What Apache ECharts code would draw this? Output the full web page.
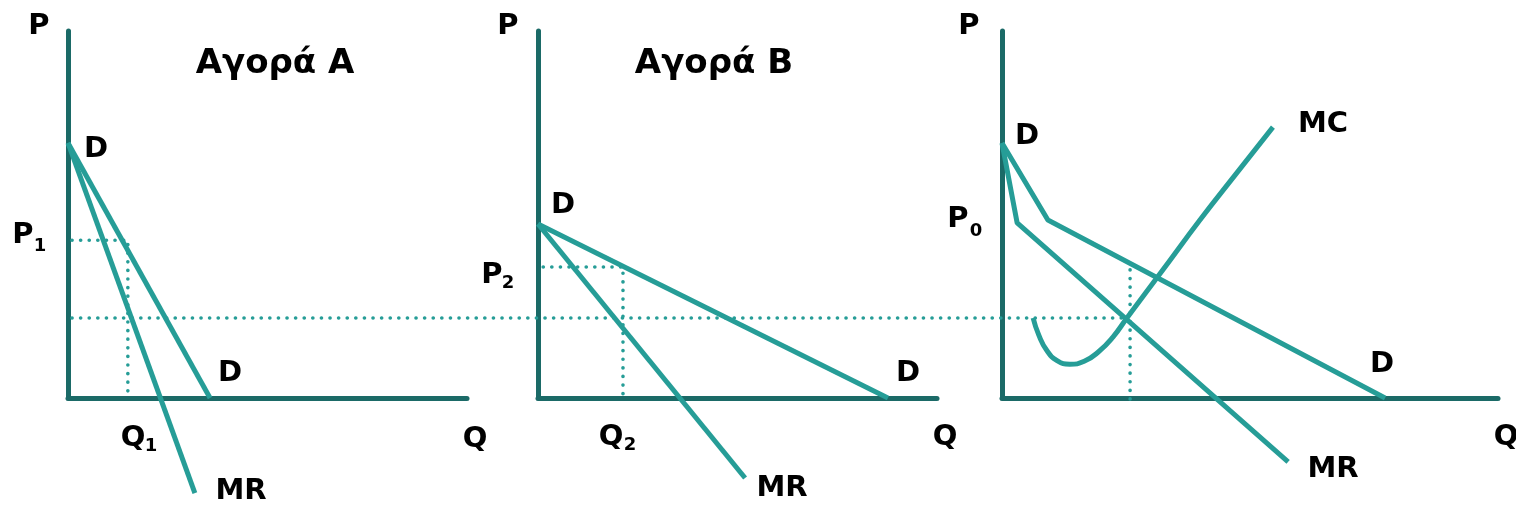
<!DOCTYPE html>
<html>
<head>
<meta charset="utf-8">
<script src="https://cdn.jsdelivr.net/npm/echarts@6/dist/echarts.min.js"></script>
<style>
  html, body { margin: 0; background: #fff; }
  #chart { width: 1516px; height: 506px; }
</style>
</head>
<body>
<div id="chart"></div>
<script>
// values, Q and P in arbitrary units (0-100 on each axis)

// Αγορά Α
const demandA = [[0, 69.5], [35.6, 0]]
const mrA = [[0, 69.5], [31.8, -25.9]]
const guideA = [[1, 43], [15, 43], [15, 0]] // P1 / Q1

// Αγορά Β
const demandB = [[0, 47.4], [87.7, 0]]
const mrB = [[0, 47.4], [51.9, -21.8]]
const guideB = [[1.3, 35.7], [21.3, 35.7], [21.3, 0]] // P2 / Q2

// total market
const demandC = [[0, 69.5], [11.5, 48.5], [96.0, 0]]
const mrC = [[0, 69.5], [3.8, 47.7], [71.7, -17.4]]
const mcC = [
  [7.8, 21.8], [9.2, 17.2], [11.2, 13.0], [13.8, 10.2], [17.0, 9.2],
  [20.6, 10.0], [24.2, 12.6], [27.8, 16.6], [31.3, 21.8],
  [40.1, 34.6], [49.6, 48.5], [58.6, 61.0], [67.9, 73.8],
]
const guideC = [[32.1, 34.9], [32.1, -1]] // Q0

// MR = MC level, runs from panel A over to panel C (panel A units, overlay grid)
const commonLevel = [[1, 21.8], [265.4, 21.8]]

const AXIS = '#1b6a67'
const CURVE = '#269d97'
const FONT = '"DejaVu Sans", Verdana, sans-serif'

const grids = [
  { left: 68, top: 31, width: 399, height: 367 },
  { left: 538, top: 31, width: 399, height: 367 },
  { left: 1002, top: 31, width: 496, height: 367 },
  { left: 68, top: 31, width: 1430, height: 367 }, // overlay, same scale as panel A
]
const xMax = [100, 100, 124.3, 358.4]

const axisBase = {
  type: 'value',
  min: 0,
  axisLine: { show: true, onZero: false, lineStyle: { color: AXIS, width: 5 } },
  axisTick: { show: false },
  axisLabel: { show: false },
  splitLine: { show: false },
}

const curve = (data, i, extra) => ({
  type: 'line',
  data,
  xAxisIndex: i,
  yAxisIndex: i,
  symbol: 'none',
  clip: false,
  animation: false,
  silent: true,
  lineStyle: { color: CURVE, width: 5 },
  ...extra,
})

const dotted = (data, i) => curve(data, i, {
  z: 1,
  lineStyle: { color: CURVE, width: 3.6, type: [0.1, 8.5], cap: 'round' },
})

// text labels: [x, y, text, size] in pixels, subscripts as separate pieces
const labelLayout = [
  [39, 26, 'P', 29], [275, 64, 'Αγορά Α', 34], [96, 149, 'D', 29],
  [23, 235, 'P', 29], [40, 246, '1', 18], [230, 373, 'D', 29],
  [133, 438, 'Q', 29], [151, 446, '1', 18], [475, 439, 'Q', 29], [241, 491, 'MR', 29],

  [508, 26, 'P', 29], [714, 64, 'Αγορά Β', 34], [563, 205, 'D', 29],
  [492, 275, 'P', 29], [508, 283, '2', 18], [908, 373, 'D', 29],
  [611, 437, 'Q', 29], [630, 445, '2', 18], [945, 437, 'Q', 29], [782, 488, 'MR', 29],

  [969, 26, 'P', 29], [1027, 136, 'D', 29], [958, 219, 'P', 29], [976, 231, '0', 18],
  [1323, 124, 'MC', 29], [1382, 364, 'D', 29], [1506, 437, 'Q', 29], [1333, 469, 'MR', 29],
]

const option = {
  backgroundColor: '#fff',
  animation: false,
  grid: grids,
  xAxis: grids.map((g, i) => ({ ...axisBase, gridIndex: i, max: xMax[i], show: i < 3 })),
  yAxis: grids.map((g, i) => ({ ...axisBase, gridIndex: i, max: 100, show: i < 3 })),
  series: [
    dotted(commonLevel, 3),
    dotted(guideA, 0),
    curve(demandA, 0),
    curve(mrA, 0),
    dotted(guideB, 1),
    curve(demandB, 1),
    curve(mrB, 1),
    dotted(guideC, 2),
    curve(demandC, 2),
    curve(mrC, 2),
    curve(mcC, 2, { smooth: 0.5 }),
  ],
  graphic: labelLayout.map(([x, y, text, size]) => ({
    type: 'text',
    x,
    y,
    silent: true,
    style: {
      text,
      font: `bold ${size}px ${FONT}`,
      fill: '#000',
      align: 'center',
      verticalAlign: 'middle',
    },
  })),
}

const chart = echarts.init(document.getElementById('chart'))
chart.setOption(option)
</script>
</body>
</html>
